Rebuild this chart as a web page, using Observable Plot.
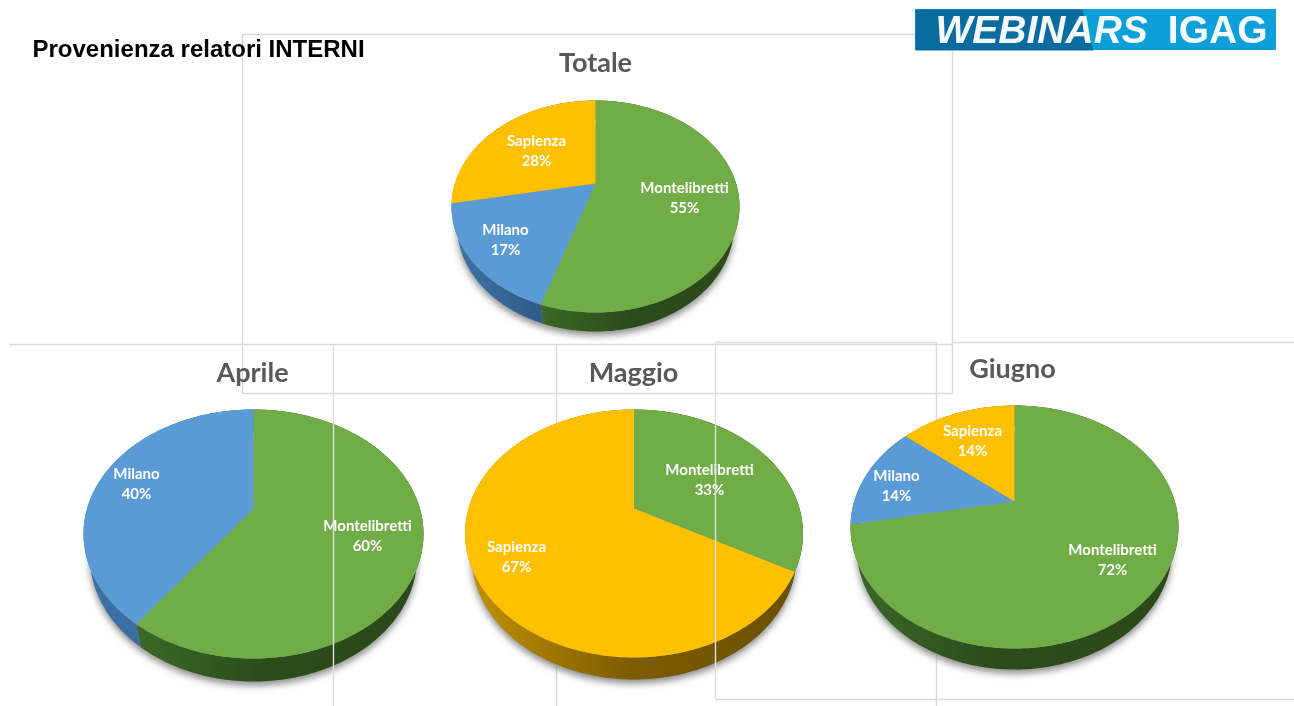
<!DOCTYPE html>
<html><head><meta charset="utf-8">
<script src="https://cdn.jsdelivr.net/npm/d3@7"></script>
<script src="https://cdn.jsdelivr.net/npm/@observablehq/plot@0.6"></script>
<style>html,body{margin:0;padding:0;background:#fff}svg{display:block}</style>
</head><body><div id="chart"></div>
<script>
// ---- data ----
const heading = "Provenienza relatori INTERNI";
const logoLeft = "WEBINARS";
const logoRight = "IGAG";
const chartNames = ["Totale", "Aprile", "Maggio", "Giugno"];
const totaleSeries = [["Montelibretti", 55], ["Milano", 17], ["Sapienza", 28]];
const aprileSeries = [["Montelibretti", 60], ["Milano", 40]];
const maggioSeries = [["Montelibretti", 33], ["Sapienza", 67]];
const giugnoSeries = [["Montelibretti", 72], ["Milano", 14], ["Sapienza", 14]];
const seriesByChart = [totaleSeries, aprileSeries, maggioSeries, giugnoSeries];

// ---- layout and style (separate from the data) ----
const W = 1294, H = 706;
const topColor = {Montelibretti: "#70ad47", Milano: "#5b9bd5", Sapienza: "#ffc000"};
const sideColor = {Montelibretti: "url(#sideGreen)", Milano: "url(#sideBlue)", Sapienza: "url(#sideYellow)"};
const pieBox = [
  {cx: 595, top: 100, apex: 183, bottom: 312, rx: 144, depth: 19, titleX: 595, titleY: 63},
  {cx: 253, top: 409, apex: 508, bottom: 658, rx: 170, depth: 23, titleX: 252, titleY: 373},
  {cx: 633.5, top: 409, apex: 508, bottom: 657, rx: 169, depth: 22, titleX: 633, titleY: 373},
  {cx: 1014, top: 405, apex: 501, bottom: 648, rx: 164, depth: 21, titleX: 1012, titleY: 369}
];
const labelSpot = [
  {Montelibretti: [684, 188], Milano: [505, 230], Sapienza: [536, 141]},
  {Montelibretti: [367, 526], Milano: [136, 474]},
  {Montelibretti: [709, 470], Sapienza: [516, 547]},
  {Montelibretti: [1112, 550], Milano: [896, 476], Sapienza: [972, 431]}
];
const backLines = [
  [242, 34, 915, 34], [242, 34, 242, 393], [242, 393, 952, 393], [952, 50, 952, 393],
  [9, 344, 952, 344], [952, 342, 1294, 342], [556, 344, 556, 706],
  [715, 342, 936, 342], [936, 342, 936, 706], [715, 699, 1294, 699]
];
const frontLines = [[333, 344, 333, 706], [715, 342, 715, 699]];
const lineColor = "#d9d9d9", frontLineColor = "#dedede";
const bottomNarrow = 0.962;
const logoLight = [{x1: 915, x2: 1276, y1: 9, y2: 50}];
const logoDarkShape = [[915, 9], [1082, 9], [1093, 50], [915, 50]];

// ---- slice geometry: a flat circle seen in perspective ----
function project(box, theta) {
  const up = box.apex - box.top, down = box.bottom - box.apex;
  const r = down / up, k = (r - 1) / (r + 1), B = up * (1 + k);
  const A = box.rx * Math.sqrt(1 - k * k);
  const u = Math.sin(theta), v = Math.cos(theta), w = 1 + k * v;
  return [box.cx + A * u / w, box.apex - B * v / w];
}
function arcPoints(box, a0, a1) {
  const n = Math.max(2, Math.ceil((a1 - a0) / (Math.PI / 180)));
  return d3.range(n + 1).map(i => project(box, a0 + (a1 - a0) * i / n));
}
const lowered = (box, [x, y], extra = 0) => [box.cx + (x - box.cx) * bottomNarrow, y + box.depth + extra];
const topRows = [], sideRows = [], shadowRows = [], labelRows = [], titleRows = [];
seriesByChart.forEach((series, c) => {
  const box = pieBox[c];
  const total = d3.sum(series, d => d[1]);
  let acc = 0;
  arcPoints(box, 0, 2 * Math.PI).forEach(p => {
    const [x, y] = lowered(box, p, 4);
    shadowRows.push({id: "s" + c, x, y});
  });
  series.forEach(([name, value]) => {
    const a0 = acc / total * 2 * Math.PI;
    acc += value;
    const a1 = acc / total * 2 * Math.PI;
    const arc = arcPoints(box, a0, a1);
    const id = c + name;
    [[box.cx, box.apex], ...arc].forEach(([x, y]) => topRows.push({id, x, y, paint: topColor[name]}));
    [...arc, ...arc.slice().reverse().map(p => lowered(box, p))]
      .forEach(([x, y]) => sideRows.push({id, x, y, paint: sideColor[name]}));
    const [lx, ly] = labelSpot[c][name];
    labelRows.push({x: lx, y: ly, text: name}, {x: lx, y: ly + 19.5, text: value + "%"});
  });
  titleRows.push({x: box.titleX, y: box.titleY, text: chartNames[c]});
});

function defsMark() {
  const defs = d3.create("svg:defs");
  const grad = (id, stops) => {
    const g = defs.append("linearGradient").attr("id", id).attr("x1", "0%").attr("x2", "100%").attr("y1", "0%").attr("y2", "0%");
    stops.forEach(([o, col]) => g.append("stop").attr("offset", o).attr("stop-color", col));
  };
  grad("sideGreen", [["0%", "#3a6828"], ["45%", "#2b4c1a"], ["100%", "#2a4a18"]]);
  grad("sideBlue", [["0%", "#3f74aa"], ["100%", "#2e5a88"]]);
  grad("sideYellow", [["0%", "#c49200"], ["50%", "#7c5c00"], ["100%", "#6a5000"]]);
  return defs.node();
}
const seg = d => ({x1: d[0], y1: d[1], x2: d[2], y2: d[3]});
const rowsBack = backLines.map(seg), rowsFront = frontLines.map(seg);

const plot = Plot.plot({
  width: W, height: H, margin: 0,
  x: {domain: [0, W], range: [0, W], axis: null},
  y: {domain: [0, H], range: [0, H], axis: null},
  color: {type: "identity"},
  style: {background: "#ffffff", filter: "blur(0.4px)"},
  marks: [
    defsMark,
    Plot.link(rowsBack, {x1: "x1", y1: "y1", x2: "x2", y2: "y2", stroke: lineColor, strokeWidth: 1.4}),
    Plot.line(shadowRows, {x: "x", y: "y", z: "id", fill: "#8c8c8c", stroke: "none", imageFilter: "blur(3.5px)"}),
    Plot.line(sideRows, {x: "x", y: "y", z: "id", fill: "paint", stroke: "none"}),
    Plot.line(topRows, {x: "x", y: "y", z: "id", fill: "paint", stroke: "none"}),
    Plot.text(labelRows, {x: "x", y: "y", text: "text", fill: "#ffffff", fontFamily: "Lato", fontWeight: 700, fontSize: 15}),
    Plot.link(rowsFront, {x1: "x1", y1: "y1", x2: "x2", y2: "y2", stroke: frontLineColor, strokeWidth: 1.4}),
    Plot.text(titleRows, {x: "x", y: "y", text: "text", fill: "#595959", fontFamily: "Lato", fontWeight: 700, fontSize: 27}),
    Plot.text([heading], {x: 32, y: 49, text: d => d, textAnchor: "start", fill: "#000000", fontFamily: "Liberation Sans", fontWeight: 700, fontSize: 24}),
    Plot.rect(logoLight, {x1: "x1", x2: "x2", y1: "y1", y2: "y2", fill: "#0d9fd8"}),
    Plot.line(logoDarkShape, {x: d => d[0], y: d => d[1], fill: "#0a6b9f", stroke: "none"}),
    Plot.text([logoLeft], {x: 935, y: 30, text: d => d, textAnchor: "start", fill: "#f2fafd", fontFamily: "Liberation Sans", fontWeight: 700, fontStyle: "italic", fontSize: 39}),
    Plot.text([logoRight], {x: 1267, y: 30, text: d => d, textAnchor: "end", fill: "#f2fafd", fontFamily: "Liberation Sans", fontWeight: 700, fontSize: 39})
  ]
});
document.getElementById("chart").append(plot);
</script></body></html>
